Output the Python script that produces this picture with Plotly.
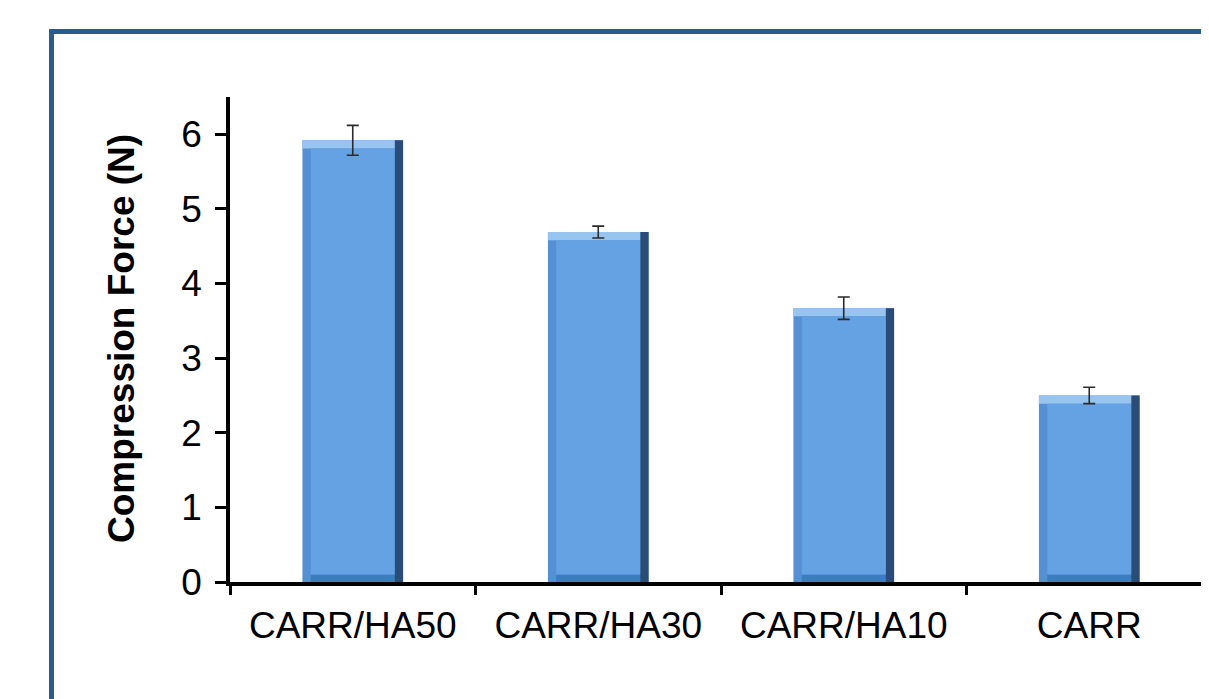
import plotly.graph_objects as go

categories = ["CARR/HA50", "CARR/HA30", "CARR/HA10", "CARR"]
force = [5.92, 4.69, 3.67, 2.50]
force_err = [0.20, 0.08, 0.15, 0.11]
y_ticks = [0, 1, 2, 3, 4, 5, 6]

# bevel styling (style, not data)
BW = 0.41          # bar width in category units
SIDE = 0.034       # side bevel width
TOP = 0.11         # top bevel height (data units)
BOT = 0.10         # bottom bevel height

fig = go.Figure()
# left/outer body
fig.add_trace(go.Bar(x=categories, y=force, width=BW, offset=-BW / 2,
                     marker=dict(color="#5690d3", line=dict(width=0)),
                     hoverinfo="skip"))
# bottom bevel
fig.add_trace(go.Bar(x=categories, y=[BOT] * len(force), base=0,
                     width=BW - 2 * SIDE, offset=-BW / 2 + SIDE,
                     marker=dict(color="#3e7bc0", line=dict(width=0)),
                     hoverinfo="skip"))
# right dark bevel
fig.add_trace(go.Bar(x=categories, y=force, width=SIDE, offset=BW / 2 - SIDE,
                     marker=dict(color="#2b4c76", line=dict(width=0)),
                     hoverinfo="skip"))
# top light bevel
fig.add_trace(go.Bar(x=categories, y=[TOP] * len(force),
                     base=[v - TOP for v in force],
                     width=BW - SIDE, offset=-BW / 2,
                     marker=dict(color="#98c5f0", line=dict(width=0)),
                     hoverinfo="skip"))
# face
fig.add_trace(go.Bar(x=categories, y=[v - TOP - BOT for v in force],
                     base=BOT, width=BW - 2 * SIDE, offset=-BW / 2 + SIDE,
                     marker=dict(color="#64a2e4", line=dict(width=0)),
                     hoverinfo="skip"))
# values with error bars
fig.add_trace(go.Bar(x=categories, y=force, width=BW, offset=-BW / 2,
                     marker=dict(color="rgba(0,0,0,0)", line=dict(width=0)),
                     error_y=dict(type="data", array=force_err, visible=True,
                                  color="#2a2a2a", thickness=1.6, width=6)))

W, H = 1209, 691          # page adds 8px body margin
L, R, T, B = 222, 5, 89, 117
pw, ph = W - L - R, H - T - B

fig.add_shape(type="rect", xref="paper", yref="paper",
              x0=(43.5 - L) / pw, x1=1.2, y0=-0.6, y1=(H - B - 23.5) / ph,
              line=dict(color="#2b5c8a", width=5), fillcolor="rgba(0,0,0,0)",
              layer="below")

fig.add_annotation(text="<b>Compression Force (N)</b>", textangle=-90,
                   xref="paper", yref="paper",
                   x=(113 - L) / pw, y=(H - B - 331) / ph,
                   xanchor="center", yanchor="middle", showarrow=False,
                   font=dict(size=37, color="black"))

fig.update_layout(
    width=W, height=H,
    margin=dict(l=L, r=R, t=T, b=B),
    paper_bgcolor="white", plot_bgcolor="white",
    showlegend=False, barmode="overlay",
    font=dict(family="Liberation Sans, Arial, sans-serif", color="black"),
    xaxis=dict(
        range=[-0.5, 3.5], showline=True, linecolor="black", linewidth=3.5,
        ticks="outside", tickson="boundaries", ticklen=9, tickwidth=3,
        tickcolor="black", tickfont=dict(size=37), ticklabelstandoff=8,
        showgrid=False, zeroline=False, fixedrange=True,
    ),
    yaxis=dict(
        range=[0, 6.5], tickvals=y_ticks, showline=True, linecolor="black",
        linewidth=3.5, ticks="outside", ticklen=11, tickwidth=3,
        tickcolor="black", tickfont=dict(size=37), ticklabelstandoff=6,
        showgrid=False, zeroline=False,
    ),
)

fig.write_html("out.html")
